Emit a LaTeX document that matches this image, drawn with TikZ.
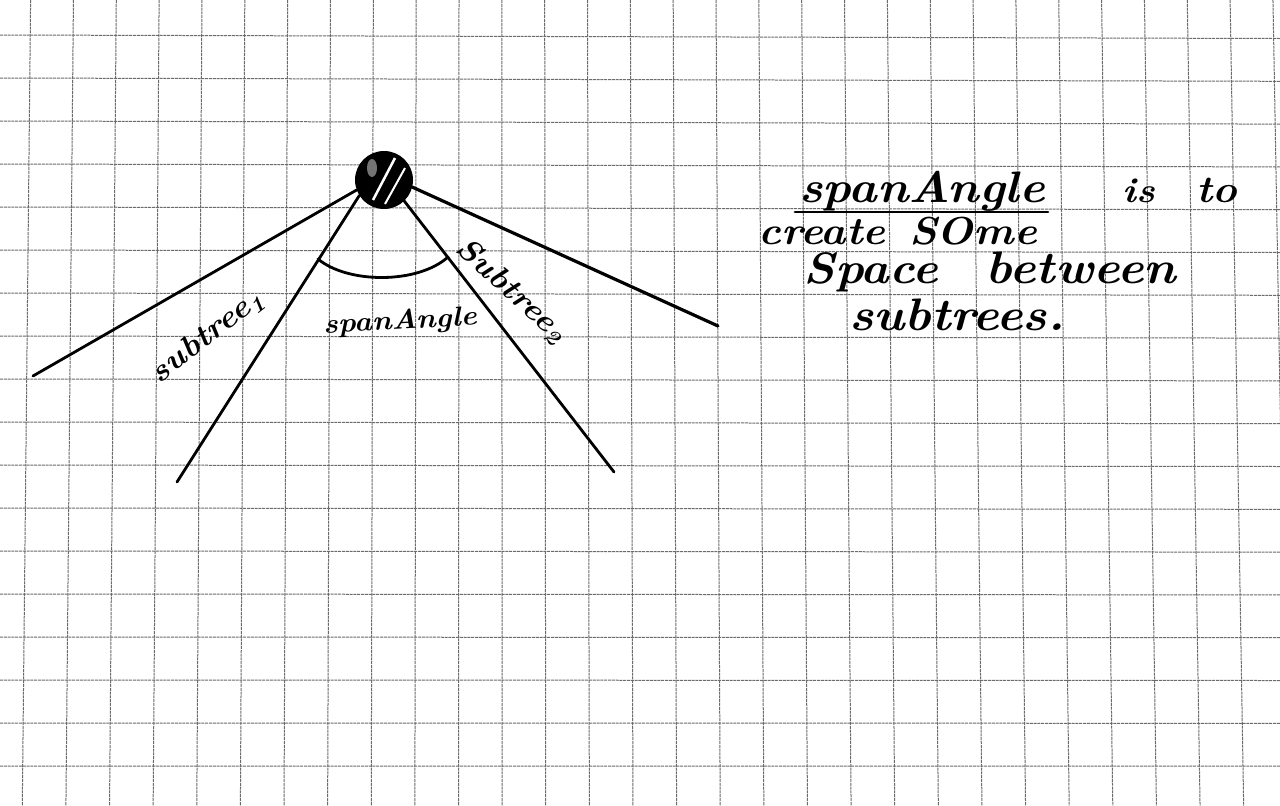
\documentclass[tikz,border=0pt]{standalone}
\usepackage{fontspec}
\newfontfamily\handfont{lmroman10-bolditalic.otf}[FakeStretch=1.1]
\begin{document}
\begin{tikzpicture}[x=1pt,y=-1pt,
  gridline/.style={black!58, line width=1pt, dash pattern=on 3pt off 0.8pt},
  pen/.style={line width=2.8pt, line cap=round, line join=round},
  hand/.style={font=\handfont\fontsize{#1}{#1}\selectfont, inner sep=0pt},
]
\useasboundingbox (0,0) rectangle (1280,806);
\clip (0,0) rectangle (1280,806);
\fill[white] (0,0) rectangle (1280,806);
% grid paper
\foreach \k in {0,...,29} {
  \draw[gridline] ({30.6+42.84*\k},0) -- ({22.3+43.62*\k},806);
}
\foreach \j in {0,...,18} {
  \draw[gridline] (0,{35+43*\j}) -- (1280,{38.5+42.8*\j});
}
% root node
\node[circle, draw, fill=black, minimum size=56pt, inner sep=0pt, line width=2pt] (root) at (384,180) {};
\begin{scope}
  \clip (root.center) circle (25pt);
  \fill[black!55] (372,168) ellipse (5pt and 9pt);
  \draw[white, line width=2.5pt] (395,158) -- (373,200);
  \draw[white, line width=2pt] (405,168) -- (385,204);
\end{scope}
% subtree edges
\coordinate (e1) at (33,376);
\coordinate (e2) at (177,482);
\coordinate (e3) at (614,472);
\coordinate (e4) at (718,326);
\draw[pen] (root.200) -- (e1);
\draw[pen] (root.212) -- (e2);
\draw[pen] (root.314) -- (e3);
\draw[pen, line width=3.2pt] (root.346) -- (e4);
% span angle arc
\coordinate (aL) at (318,259);
\coordinate (aR) at (448,257);
\draw[pen] (aL) .. controls (348,284) and (418,284) .. (aR);
% labels
\node[hand=31, rotate=38] (lab1) at (207,337) {subtree\textsubscript{1}};
\node[hand=27.5, rotate=3] (lab2) at (400,322) {spanAngle};
\node[hand=31, rotate=-42] (lab3) at (511,291) {Subtree\textsubscript{2}};
% explanation
\node[hand=44, anchor=base] (sa) at (922,202) {spanAngle};
\node[hand=35, anchor=base] (is) at (1139,202) {is};
\node[hand=38, anchor=base] (to) at (1217,202) {to};
\node[hand=39, anchor=base] (cr) at (822,244) {create};
\node[hand=39, anchor=base] (so) at (973,244) {SOme};
\node[hand=44, anchor=base] (sp) at (871,283) {Space};
\node[hand=45.5, anchor=base] (bt) at (1081,283) {between};
\node[hand=45.5, anchor=base] (st) at (957,330) {subtrees.};
\coordinate (ulA) at (795,212);
\coordinate (ulB) at (1048,212);
\draw[pen] (ulA) -- (ulB);
\end{tikzpicture}
\end{document}
